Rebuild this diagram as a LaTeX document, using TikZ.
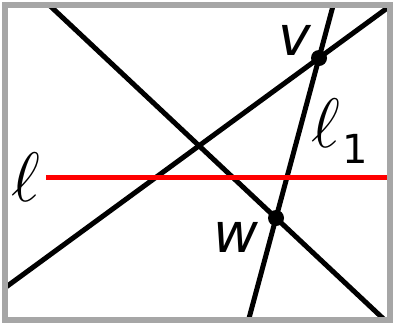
\documentclass[tikz,border=0pt]{standalone}
\usepackage{fix-cm}
\usepackage{fontspec}
\setsansfont{DejaVu Sans}
\usetikzlibrary{positioning}
\tikzset{
  line/.style={line width=5pt},
  dot/.style={circle,fill=black,inner sep=0pt,minimum size=16pt},
  ptlbl/.style={inner sep=0pt,font=\sffamily\itshape\fontsize{55}{55}\selectfont},
  elllbl/.style={inner sep=0pt,font=\fontsize{70}{70}\selectfont},
}
\begin{document}
\begin{tikzpicture}[x=1pt,y=-1pt]
\useasboundingbox (0,0) rectangle (393,322);
% intersection points
\coordinate (v) at (319,58);
\coordinate (w) at (276,218);
% free ends, hidden under the frame
\coordinate (aTop) at (48.1,4);
\coordinate (aBot) at (386.8,322);
\coordinate (bLeft) at (4,288.5);
\coordinate (bRight) at (392,4.6);
\coordinate (cTop) at (333.5,4);
\coordinate (cBot) at (248,322);
\coordinate (lLeft) at (46,177);
\coordinate (lRight) at (392,177);
% lines
\draw[line] (aTop) -- (w) -- (aBot);
\draw[line] (bLeft) -- (v) -- (bRight);
\draw[line] (cTop) -- (v) -- (w) -- (cBot);
\draw[line,red] (lLeft) -- (lRight);
\node[dot] (vdot) at (v) {};
\node[dot] (wdot) at (w) {};
% labels
\node[ptlbl] (vlbl) at (295,40) {v};
\node[ptlbl] (wlbl) at (236,237) {w};
\node[elllbl] (elllbl) at (26,177) {$\ell$};
\node[elllbl,anchor=base west] (ellonelbl) at (311,147)
  {$\ell$\kern3pt\raisebox{-16pt}{\sffamily\fontsize{40}{40}\selectfont 1}};
% frame
\draw[gray!70,line width=6pt] (5,5) rectangle (390,319.5);
\end{tikzpicture}
\end{document}
